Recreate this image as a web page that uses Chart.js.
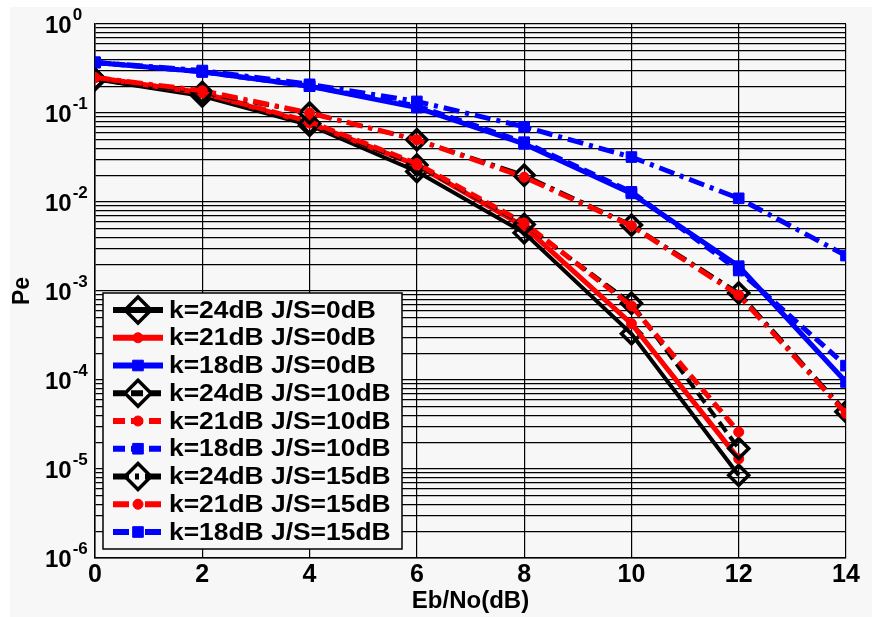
<!DOCTYPE html>
<html>
<head>
<meta charset="utf-8">
<script src="https://cdn.jsdelivr.net/npm/chart.js@4.4.1/dist/chart.umd.min.js"></script>
<style>
  html, body { margin: 0; padding: 0; background: #ffffff; }
  #wrap { position: relative; width: 872px; height: 617px; }
</style>
</head>
<body>
<div id="wrap"><canvas id="myChart" width="872" height="617"></canvas></div>
<script>
// x axis values (Eb/No in dB)
const ebNo = [0, 2, 4, 6, 8, 10, 12, 14];
const xTicks = [0, 2, 4, 6, 8, 10, 12, 14];
// y axis decade exponents shown as labels
const yExponents = [0, -1, -2, -3, -4, -5, -6];

// Pe values
const k24js0 = [0.24, 0.155, 0.073, 0.022, 0.0045, 0.00033, 0.0000085];
const k21js0 = [0.25, 0.168, 0.077, 0.026, 0.0053, 0.00043, 0.000013];
const k18js0 = [0.37, 0.29, 0.2, 0.115, 0.045, 0.0125, 0.0019, 0.000095];
const k24js10 = [0.24, 0.16, 0.076, 0.026, 0.0056, 0.00073, 0.000017];
const k21js10 = [0.25, 0.168, 0.08, 0.027, 0.0058, 0.00068, 0.000026];
const k18js10 = [0.37, 0.29, 0.2, 0.12, 0.047, 0.013, 0.0017, 0.000145];
const k24js15 = [0.24, 0.17, 0.1, 0.05, 0.02, 0.0055, 0.00095, 0.000044];
const k21js15 = [0.25, 0.178, 0.1, 0.05, 0.019, 0.0054, 0.0009, 0.000042];
const k18js15 = [0.37, 0.3, 0.21, 0.135, 0.07, 0.032, 0.011, 0.0025];

const labels = [
  "k=24dB J/S=0dB", "k=21dB J/S=0dB", "k=18dB J/S=0dB",
  "k=24dB J/S=10dB", "k=21dB J/S=10dB", "k=18dB J/S=10dB",
  "k=24dB J/S=15dB", "k=21dB J/S=15dB", "k=18dB J/S=15dB"
];
const seriesValues = [k24js0, k21js0, k18js0, k24js10, k21js10, k18js10, k24js15, k21js15, k18js15];

const FONT = "'Liberation Sans', Arial, sans-serif";
const dashByJs = [[], [12, 6], [16, 6, 4, 6]];

// marker look per k value
const kStyles = [
  { color: "#000000", pointStyle: "rectRot", radius: 10, pointBorderWidth: 3.5, fill: "rgba(0,0,0,0)", lineWidth: 4 },
  { color: "#ff0000", pointStyle: "circle", radius: 5, pointBorderWidth: 1, fill: "#ff0000", lineWidth: 5 },
  { color: "#0000ff", pointStyle: "rect", radius: 7.5, pointBorderWidth: 1, fill: "#0000ff", lineWidth: 5 }
];

const datasets = seriesValues.map((vals, i) => {
  const st = kStyles[i % 3];
  return {
    label: labels[i],
    data: vals.map((v, j) => ({ x: ebNo[j], y: v })),
    borderColor: st.color,
    backgroundColor: st.fill,
    borderWidth: st.lineWidth,
    borderDash: dashByJs[Math.floor(i / 3)],
    pointStyle: st.pointStyle,
    pointRadius: st.radius,
    pointBorderWidth: st.pointBorderWidth,
    pointBorderColor: st.color,
    pointBackgroundColor: st.fill,
    tension: 0,
    order: 9 - i
  };
});

// gray figure background like the exported figure
const figureBg = {
  id: "figureBg",
  beforeDraw(chart) {
    const ctx = chart.ctx;
    ctx.save();
    ctx.fillStyle = "#f7f7f7";
    ctx.fillRect(10, 7, chart.width - 10, chart.height - 7);
    ctx.restore();
  }
};

// y labels as 10 with raised exponent
const yLabels = {
  id: "yLabels",
  afterDraw(chart) {
    const ctx = chart.ctx;
    const ys = chart.scales.y;
    ctx.save();
    ctx.fillStyle = "#000";
    ctx.textAlign = "left";
    ctx.textBaseline = "alphabetic";
    yExponents.forEach((p) => {
      const y = ys.getPixelForValue(Math.pow(10, p));
      ctx.font = "bold 24px " + FONT;
      ctx.fillText("10", 45, y + 8.5);
      const w = ctx.measureText("10").width;
      ctx.font = "bold 17px " + FONT;
      ctx.fillText(String(p), 45 + w + 1, y - 4);
    });
    ctx.restore();
  }
};

// legend box in lower left of the plot
const legendBox = {
  id: "legendBox",
  afterDraw(chart) {
    const ctx = chart.ctx;
    const area = chart.chartArea;
    const x0 = area.left + 8, w = 299, h = 256;
    const y0 = area.bottom - 9 - h;
    ctx.save();
    ctx.fillStyle = "#f7f7f7";
    ctx.fillRect(x0, y0, w, h);
    ctx.strokeStyle = "#000";
    ctx.lineWidth = 1.5;
    ctx.strokeRect(x0, y0, w, h);
    chart.data.datasets.forEach((ds, i) => {
      const y = y0 + 17 + i * 27.75;
      const st = kStyles[i % 3];
      ctx.setLineDash(ds.borderDash);
      ctx.strokeStyle = ds.borderColor;
      ctx.lineWidth = 6;
      ctx.beginPath();
      ctx.moveTo(x0 + 10, y);
      ctx.lineTo(x0 + 60, y);
      ctx.stroke();
      ctx.setLineDash([]);
      ctx.fillStyle = st.fill;
      ctx.lineWidth = st.pointBorderWidth;
      Chart.helpers.drawPoint(ctx, {
        pointStyle: st.pointStyle,
        radius: st.pointStyle === "rectRot" ? 13 : st.radius,
        rotation: 0,
        borderWidth: st.pointBorderWidth
      }, x0 + 35, y);
      ctx.fillStyle = "#000";
      ctx.font = "bold 24px " + FONT;
      ctx.textAlign = "left";
      ctx.textBaseline = "middle";
      ctx.save();
      ctx.translate(x0 + 66, y + 1);
      ctx.scale(1.1, 1);
      ctx.fillText(ds.label, 0, 0);
      ctx.restore();
    });
    ctx.restore();
  }
};

const ctx = document.getElementById("myChart").getContext("2d");
new Chart(ctx, {
  type: "line",
  data: { datasets: datasets },
  options: {
    responsive: false,
    animation: false,
    devicePixelRatio: 1,
    layout: { padding: { top: 24, right: 26, left: 0, bottom: 0 } },
    plugins: {
      legend: { display: false },
      tooltip: { enabled: false }
    },
    scales: {
      x: {
        type: "linear",
        min: 0,
        max: 14,
        afterBuildTicks: (scale) => { scale.ticks = xTicks.map((v) => ({ value: v })); },
        afterFit: (scale) => { scale.height = 59; },
        grid: { color: "#000", lineWidth: 1.2, drawTicks: false },
        border: { color: "#000", width: 1.5 },
        ticks: {
          color: "#000",
          padding: 5,
          maxRotation: 0,
          font: { family: FONT, size: 25, weight: "bold", lineHeight: 1 }
        },
        title: {
          display: true,
          text: "Eb/No(dB)",
          color: "#000",
          padding: { top: 0, bottom: 1 },
          font: { family: FONT, size: 24, weight: "bold" }
        }
      },
      y: {
        type: "logarithmic",
        min: 1e-6,
        max: 1,
        afterBuildTicks: (scale) => {
          const t = [];
          for (let e = -6; e < 0; e++) {
            for (let m = 1; m < 10; m++) t.push({ value: m * Math.pow(10, e) });
          }
          t.push({ value: 1 });
          scale.ticks = t;
        },
        afterFit: (scale) => { scale.width = 95; },
        grid: { color: "#000", lineWidth: 1.2, drawTicks: false },
        border: { color: "#000", width: 1.5 },
        ticks: { display: false },
        title: {
          display: true,
          text: "Pe",
          color: "#000",
          padding: { top: 9, bottom: 0 },
          font: { family: FONT, size: 23, weight: "bold" }
        }
      }
    }
  },
  plugins: [figureBg, yLabels, legendBox]
});
</script>
</body>
</html>
